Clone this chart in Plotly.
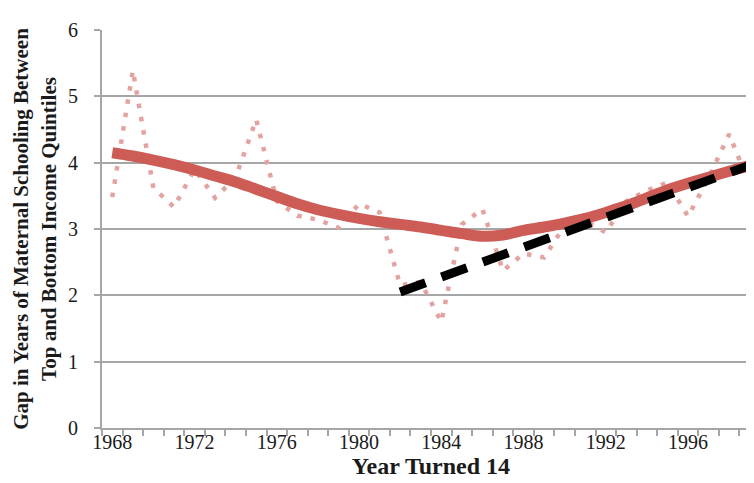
import plotly.graph_objects as go

years = list(range(1968, 2000))

gap_annual = [3.48, 5.39, 3.62, 3.33, 3.90, 3.47, 3.78, 4.65, 3.42, 3.20,
              3.14, 3.02, 3.38, 3.25, 2.15, 2.20, 1.60, 3.07, 3.30, 2.37,
              2.63, 2.57, 3.05, 3.12, 2.95, 3.42, 3.58, 3.70, 3.19, 3.77,
              4.43, 3.66]

gap_smooth = [4.15, 4.10, 4.04, 3.97, 3.89, 3.80, 3.71, 3.60, 3.49, 3.38,
              3.29, 3.22, 3.16, 3.11, 3.07, 3.03, 2.98, 2.93, 2.89, 2.91,
              2.98, 3.03, 3.09, 3.16, 3.25, 3.35, 3.47, 3.59, 3.69, 3.78,
              3.87, 3.96]

trend_years = [1982, 1999]
trend_values = [2.05, 3.96]

xtick_years = [1968, 1972, 1976, 1980, 1984, 1988, 1992, 1996]

FONT = "Liberation Serif"
GRID = "#A6A6A6"

fig = go.Figure()
fig.add_trace(go.Scatter(
    x=years, y=gap_annual, mode="lines",
    line=dict(color="#E3A3A1", width=4.5, dash="4.5px,9px"),
    showlegend=False, hoverinfo="skip"))
fig.add_trace(go.Scatter(
    x=years, y=gap_smooth, mode="lines", line_shape="spline",
    line=dict(color="#CD5B56", width=11),
    showlegend=False, hoverinfo="skip"))
fig.add_trace(go.Scatter(
    x=trend_years, y=trend_values, mode="lines",
    line=dict(color="#000000", width=9, dash="27px,17px"),
    showlegend=False, hoverinfo="skip"))

fig.update_layout(
    width=754, height=483,
    margin=dict(l=94, r=2, t=22, b=63),
    paper_bgcolor="white", plot_bgcolor="white",
    font=dict(family=FONT, size=20, color="#1a1a1a"),
)
fig.update_xaxes(
    range=[1967.5, 1999.5],
    tickmode="array", tickvals=xtick_years,
    ticktext=[str(y) for y in xtick_years],
    ticks="", ticklen=0, showgrid=False,
    ticklabelstandoff=-5,
    showline=True, linecolor=GRID, linewidth=2,
    minor=dict(ticks="outside", tick0=1967.5, dtick=1, ticklen=6,
               tickcolor=GRID, tickwidth=1.5, showgrid=False),
    tickfont=dict(family=FONT, size=20),
    title=dict(text="<b>Year Turned 14</b>", font=dict(family=FONT, size=24),
               standoff=4),
    zeroline=False,
)
fig.update_yaxes(
    range=[0, 6], dtick=1, tick0=0,
    ticks="outside", ticklen=6, tickcolor=GRID, tickwidth=1.5,
    ticklabelstandoff=12,
    showgrid=True, gridcolor=GRID, gridwidth=2,
    showline=True, linecolor=GRID, linewidth=2,
    zeroline=False,
    tickfont=dict(family=FONT, size=20),
    title=dict(text="<b>Gap in Years of Maternal Schooling Between<br>Top and Bottom Income Quintiles</b>",
               font=dict(family=FONT, size=21), standoff=6),
)

fig.write_html("out.html")
